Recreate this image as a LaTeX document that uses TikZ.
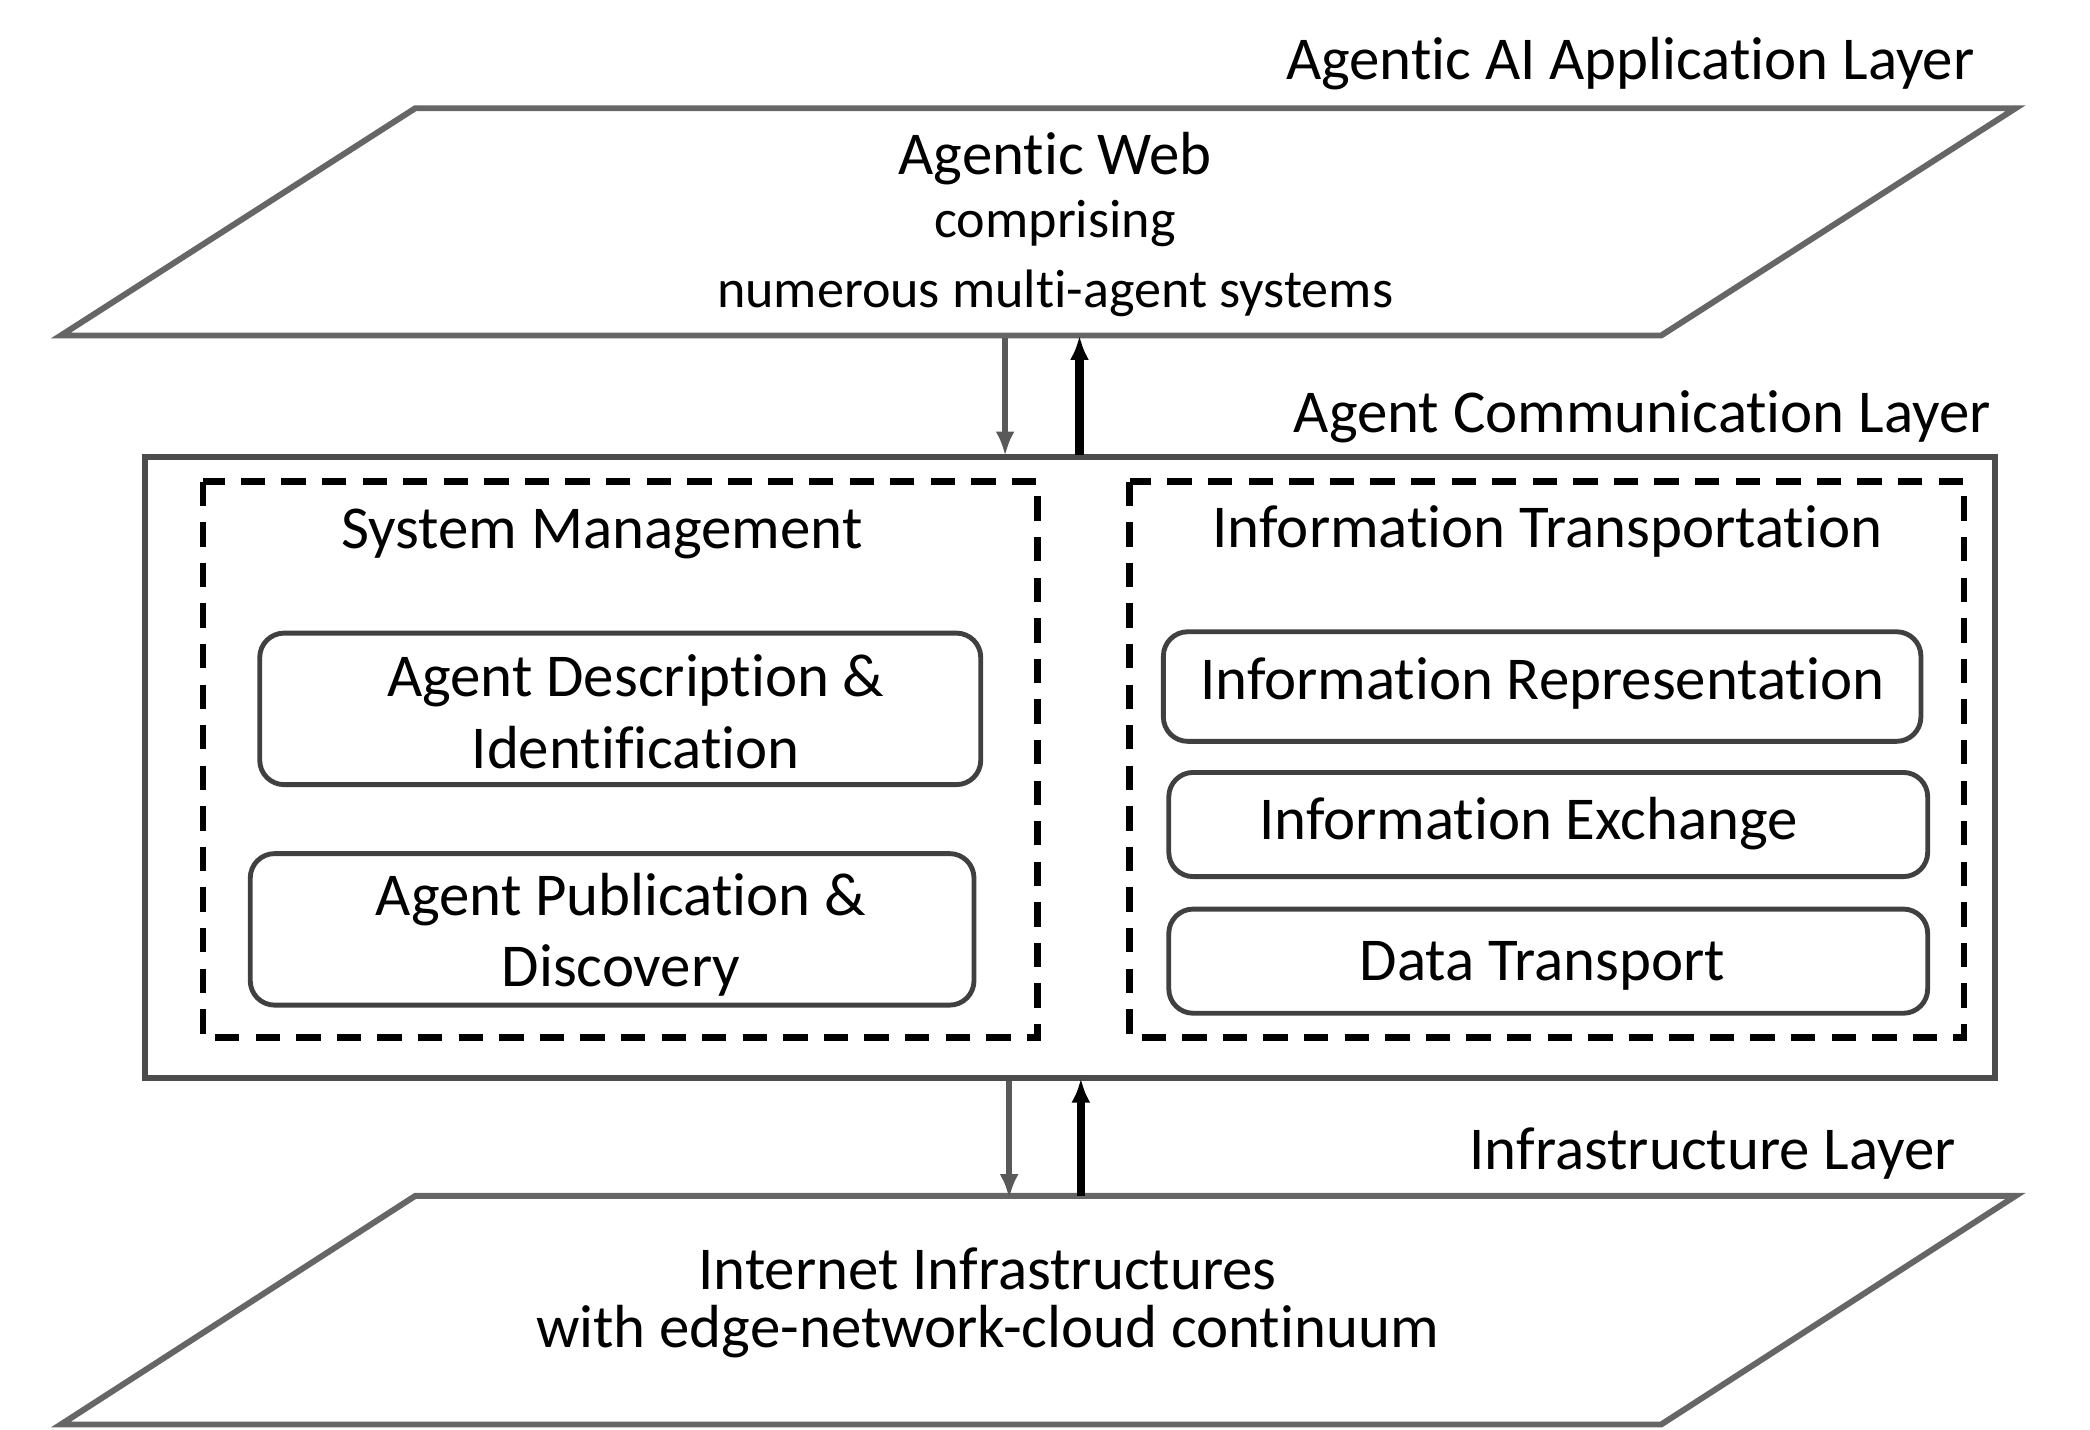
\documentclass[tikz,border=0pt]{standalone}
\usepackage{fontspec}
\usetikzlibrary{arrows.meta}
\setmainfont{Carlito}[Ligatures=NoCommon]
\begin{document}
\begin{tikzpicture}[x=0.5pt,y=-0.5pt,
  plane/.style={draw=black!60,line width=2.2pt,fill=white},
  lbl/.style={font=\fontsize{22.5}{24}\selectfont,inner sep=0pt},
  sub/.style={font=\fontsize{20}{22}\selectfont,inner sep=0pt},
  rbox/.style={draw=black!75,line width=1.8pt,rounded corners=9pt},
  dbox/.style={draw=black,line width=2.4pt,dash pattern=on 9pt off 6pt},
  arr/.style={line width=2.2pt,-{Latex[length=9pt,width=7pt]}}]
\useasboundingbox (0,0) rectangle (1545,1057);
% planes
\draw[plane] (307,80) -- (1490,80) -- (1228,248) -- (45,248) -- cycle;
\draw[plane] (307,884) -- (1490,884) -- (1228,1053) -- (45,1053) -- cycle;
\node[lbl,anchor=east] (l1) at (1460,47) {Agentic AI Application Layer};
\node[lbl] (aw) at (780,117) {Agentic Web};
\node[sub] (cp) at (780,165) {comprising};
\node[sub] (nm) at (780,217) {numerous multi-agent systems};
\node[lbl,anchor=east] (l3) at (1446,853) {Infrastructure Layer};
\node[lbl,align=center,font=\fontsize{22.5}{21.5}\selectfont] (ii) at (730,963) {Internet Infrastructures\\with edge-network-cloud continuum};
% middle
\node[lbl,anchor=east] (l2) at (1472,308) {Agent Communication Layer};
\draw[draw=black!70,line width=2.2pt] (107,338) rectangle (1475,797);
\draw[dbox] (150,356) rectangle (767,767);
\draw[dbox] (835,356) rectangle (1452,767);
\node[lbl] (sm) at (445,395) {System Management};
\node[lbl] (it) at (1144,393) {Information Transportation};
\draw[rbox] (192,468) rectangle (725,580);
\node[lbl,align=center,font=\fontsize{22.5}{26.5}\selectfont] (adi) at (470,526) {Agent Description \&\\Identification};
\draw[rbox] (185,631) rectangle (720,743);
\node[lbl,align=center,font=\fontsize{22.5}{26.5}\selectfont] (apd) at (459,691) {Agent Publication \&\\Discovery};
\draw[rbox] (860,467) rectangle (1420,548);
\node[lbl] (ir) at (1140,505) {Information Representation};
\draw[rbox] (864,571) rectangle (1425,648);
\node[lbl] (ie) at (1130,609) {Information Exchange};
\draw[rbox] (864,672) rectangle (1425,749);
\node[lbl] (dt) at (1140,714) {Data Transport};
% arrows
\coordinate (a1) at (743,250); \coordinate (a2) at (743,337);
\coordinate (b1) at (798,336); \coordinate (b2) at (798,248);
\coordinate (c1) at (746,799); \coordinate (c2) at (746,886);
\coordinate (d1) at (799,884); \coordinate (d2) at (799,797);
\draw[arr,black!65] (a1) -- (a2);
\draw[arr,line width=3pt] (b1) -- (b2);
\draw[arr,black!65] (c1) -- (c2);
\draw[arr,line width=3pt] (d1) -- (d2);
\end{tikzpicture}
\end{document}
